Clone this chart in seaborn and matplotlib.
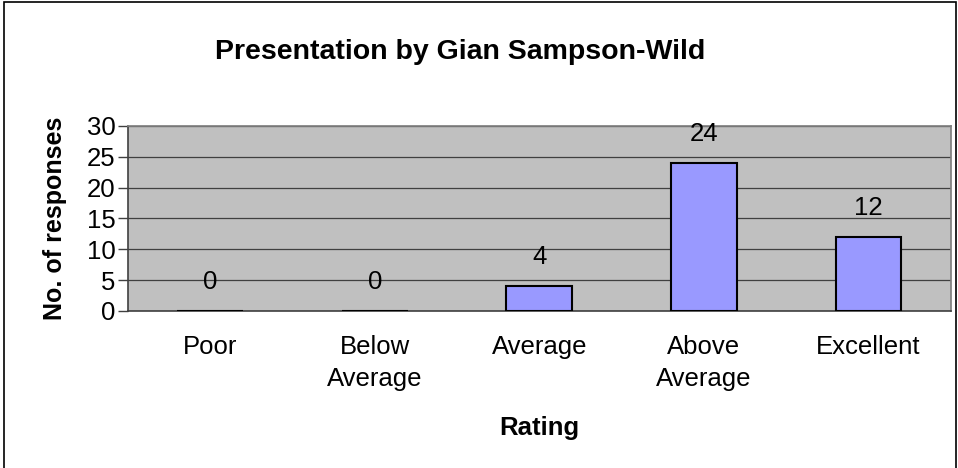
import pandas as pd
import seaborn as sns
import matplotlib.pyplot as plt
from matplotlib.patches import Rectangle

ratings = ["Poor", "Below\nAverage", "Average", "Above\nAverage", "Excellent"]
responses = [0, 0, 4, 24, 12]
y_ticks = [0, 5, 10, 15, 20, 25, 30]


def plot_bars(df):
    sns.set_theme(style="white")
    plt.rcParams['font.family'] = ['Liberation Sans', 'DejaVu Sans']
    plt.rcParams['text.color'] = 'black'
    plt.rcParams['axes.labelcolor'] = 'black'
    plt.rcParams['xtick.color'] = 'black'
    plt.rcParams['ytick.color'] = 'black'
    fig = plt.figure(figsize=(9.58, 4.68), dpi=100)
    ax = fig.add_axes([0.1336, 0.3355, 0.8588, 0.3953])
    sns.barplot(data=df, x="Rating", y="Responses", color="#9999FF",
                width=0.4, edgecolor="black", linewidth=1.5,
                saturation=1, ax=ax, zorder=3)
    ax.set_facecolor("#C0C0C0")
    ax.set_xlim(-0.5, len(df) - 0.5)
    ax.set_ylim(0, 30)
    ax.set_yticks(y_ticks)
    ax.yaxis.grid(True, color="#404040", linewidth=0.9, zorder=0)
    ax.set_axisbelow(True)

    # ticks between categories, like the spreadsheet chart
    ax.set_xticks([i - 0.5 for i in range(len(df) + 1)], minor=False)
    ax.set_xticklabels([])
    ax.set_xticks(range(len(df)), minor=True)
    ax.set_xticklabels(df["Rating"], minor=True, fontsize=18.5)
    for lab in ax.get_xticklabels(minor=True):
        lab.set_linespacing(1.45)
    ax.tick_params(axis="x", which="major", length=7, width=1, color="#404040", direction="out")
    ax.tick_params(axis="x", which="minor", length=0, pad=17)
    ax.tick_params(axis="y", length=7, width=1, color="#404040", labelsize=18.5, pad=2, left=True)

    for side in ["left", "bottom"]:
        ax.spines[side].set_color("#404040")
        ax.spines[side].set_linewidth(1.2)
    ax.spines["top"].set_color("#808080")
    ax.spines["right"].set_color("#808080")

    for i, v in enumerate(df["Responses"]):
        ax.annotate(str(v), (i, v), xytext=(0, 21), textcoords="offset points",
                    ha="center", va="center", fontsize=18.5)

    ax.set_xlabel("Rating", fontsize=18.5, fontweight="bold", va="center")
    ax.xaxis.set_label_coords(0.5, -0.632)
    ax.set_ylabel("No. of responses", fontsize=18, fontweight="bold", va="center")
    ax.yaxis.set_label_coords(-0.0887, 0.5)
    fig.text(0.480, 0.889, "Presentation by Gian Sampson-Wild", ha="center", va="center",
             fontsize=20.5, fontweight="bold")

    # outer chart border
    fig.patches.append(Rectangle((0.0045, -0.05), 0.993, 1.045, transform=fig.transFigure,
                                 fill=False, edgecolor="black", linewidth=1.2))
    return fig


def main():
    df = pd.DataFrame({"Rating": ratings, "Responses": responses})
    fig = plot_bars(df)
    fig.savefig("out.png", dpi=100)


if __name__ == "__main__":
    main()
